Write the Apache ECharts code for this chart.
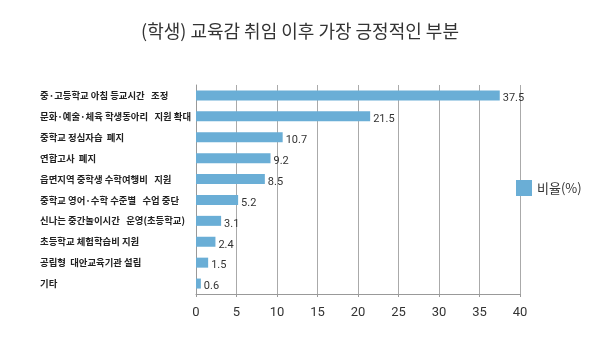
<!DOCTYPE html>
<html><head><meta charset="utf-8">
<script src="https://cdn.jsdelivr.net/npm/echarts@6/dist/echarts.min.js"></script>
<style>html,body{margin:0;padding:0;background:#fff}#c{width:600px;height:337px}</style>
</head><body><div id="c"></div>
<script>
const categories = [
  '중·고등학교 아침 등교시간   조정',
  '문화·예술·체육 학생동아리   지원 확대',
  '중학교 정심자습  폐지',
  '연합고사  폐지',
  '읍면지역 중학생 수학여행비   지원',
  '중학교 영어·수학 수준별   수업 중단',
  '신나는 중간놀이시간   운영(초등학교)',
  '초등학교 체험학습비 지원',
  '공립형  대안교육기관 설립',
  '기타'
];
const values = [37.5, 21.5, 10.7, 9.2, 8.5, 5.2, 3.1, 2.4, 1.5, 0.6];
const xTicks = [0, 5, 10, 15, 20, 25, 30, 35, 40];
const seriesName = '비율(%)';
const title = '(학생) 교육감 취임 이후 가장 긍정적인 부분';

const chart = echarts.init(document.getElementById('c'));
chart.setOption({
  animation: false,
  backgroundColor: '#fff',
  title: {
    text: title, left: 'center', top: 17,
    textStyle: {fontFamily: 'Noto Sans CJK KR', fontSize: 18, fontWeight: 'normal', color: '#333'}
  },
  legend: {
    data: [seriesName], orient: 'vertical', left: 511, top: 175,
    itemWidth: 16, itemHeight: 16, icon: 'rect', itemGap: 5,
    textStyle: {fontFamily: 'Noto Sans CJK KR', fontSize: 13, color: '#333'}
  },
  grid: {left: 196, right: 80, top: 85, bottom: 43, containLabel: false},
  xAxis: {
    type: 'value', min: xTicks[0], max: xTicks[xTicks.length - 1], interval: 5,
    axisLine: {show: true, lineStyle: {color: '#999'}},
    axisTick: {show: true, length: 3, lineStyle: {color: '#999'}},
    axisLabel: {fontFamily: 'Roboto', fontSize: 13, color: '#333', margin: 12},
    splitLine: {show: true, lineStyle: {color: '#aaa', width: 1}}
  },
  yAxis: {
    type: 'category', inverse: true, data: categories,
    axisLine: {show: true, lineStyle: {color: '#999'}},
    axisTick: {show: false},
    axisLabel: {
      align: 'left', margin: 156, fontFamily: 'Noto Sans CJK KR', fontSize: 9.4,
      fontWeight: 'bold', color: '#222', verticalAlign: 'middle', padding: [0, 0, 3, 0]
    }
  },
  series: [{
    name: seriesName, type: 'bar', data: values, barWidth: 10,
    itemStyle: {color: '#6aaed6'},
    label: {
      show: true, position: 'right', distance: 3, offset: [0, 3],
      fontFamily: 'Roboto', fontSize: 11, color: '#333'
    }
  }]
});
</script></body></html>
